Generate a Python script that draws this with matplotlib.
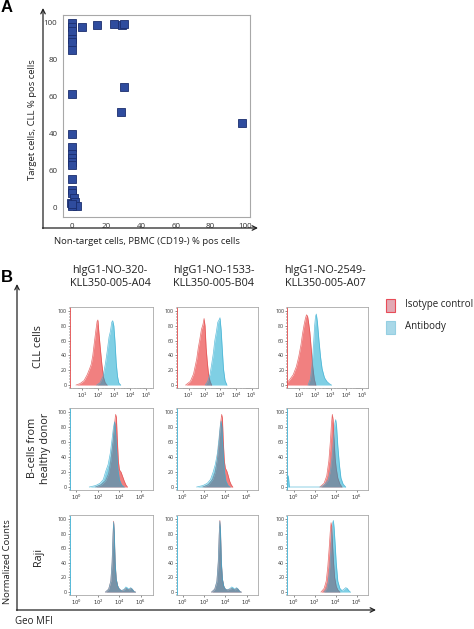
import numpy as np
import matplotlib.pyplot as plt
from matplotlib.patches import Rectangle
from matplotlib.ticker import FixedLocator, MultipleLocator, LogLocator, NullFormatter

plt.rcParams['font.family'] = ['Open Sans', 'DejaVu Sans']

W, H = 474, 629

# ---- panel A: % positive cells, CLL (target) vs PBMC CD19- (non-target)
pbmc_pos = [0, 0, 0, 0, 0, 0, 5.6, 14.6, 24, 28.8, 30.2, 0, 29.8, 28.3, 98.5,
            0, 0, 0, 0, 0, 0, 0, 0, 0, 1, -0.5, 1.7, 2.9, 0, 0]
cll_pos = [100, 98, 95.5, 91.5, 89.6, 85.5, 97.8, 99, 99.6, 99, 99.3, 61.3, 65, 51.5, 45.8,
           39.5, 32.7, 28.7, 26.4, 24.5, 23, 15, 9.5, 7.6, 4.9, 2, 2.5, 0.7, 0.5, 1.5]
a_ticks = [0, 20, 40, 60, 80, 100]
a_yticklabels = ['0', '60', '40', '60', '80', '100']  # as printed in the original

# ---- panel B: flow histograms (x in log10 units, y = normalized counts)
antibodies = ['hIgG1-NO-320-\nKLL350-005-A04', 'hIgG1-NO-1533-\nKLL350-005-B04',
              'hIgG1-NO-2549-\nKLL350-005-A07']
cell_types = ['CLL cells', 'B-cells from\nhealthy donor', 'Raji']

# CLL cells
r1c1_iso_x = [0.6, 0.85, 1.1, 1.3, 1.45, 1.55, 1.65, 1.75, 1.85, 1.92, 1.97, 2.03, 2.12, 2.22, 2.33, 2.43, 2.55]
r1c1_iso_y = [0, 2, 6, 14, 22, 28, 40, 58, 75, 86, 88, 72, 50, 28, 10, 3, 0]
r1c1_ab_x = [1.9, 2.1, 2.3, 2.45, 2.55, 2.67, 2.75, 2.84, 2.9, 2.97, 3.04, 3.12, 3.2, 3.28, 3.4]
r1c1_ab_y = [0, 3, 12, 30, 45, 65, 72, 85, 87, 80, 60, 30, 12, 3, 0]
r1c2_iso_x = [0.8, 1.1, 1.3, 1.4, 1.5, 1.6, 1.7, 1.8, 1.9, 1.97, 2.03, 2.1, 2.17, 2.25, 2.35, 2.45]
r1c2_iso_y = [0, 5, 15, 25, 35, 50, 62, 75, 82, 90, 80, 50, 32, 15, 5, 0]
r1c2_ab_x = [2.05, 2.2, 2.35, 2.45, 2.55, 2.65, 2.75, 2.84, 2.92, 2.98, 3.05, 3.12, 3.2, 3.3, 3.42]
r1c2_ab_y = [0, 5, 15, 28, 42, 60, 72, 85, 88, 91, 75, 50, 22, 6, 0]
r1c3_iso_x = [0.2, 0.4, 0.6, 0.8, 0.95, 1.1, 1.2, 1.3, 1.38, 1.45, 1.52, 1.58, 1.66, 1.75, 1.85, 1.95, 2.05]
r1c3_iso_y = [3, 8, 14, 25, 38, 55, 70, 82, 90, 95, 93, 85, 72, 50, 25, 8, 0]
r1c3_ab_x = [1.55, 1.7, 1.8, 1.9, 1.97, 2.03, 2.08, 2.15, 2.25, 2.35, 2.45, 2.6, 2.75, 2.9, 3.05]
r1c3_ab_y = [0, 8, 25, 55, 80, 93, 96, 85, 60, 38, 22, 10, 5, 2, 0]

# B-cells from healthy donor
r2c1_iso_x = [1.8, 2.3, 2.7, 3.0, 3.2, 3.4, 3.55, 3.65, 3.72, 3.8, 3.9, 4.0, 4.15, 4.3, 4.45, 4.6, 4.75]
r2c1_iso_y = [0, 3, 8, 18, 35, 60, 85, 97, 93, 65, 35, 23, 20, 14, 8, 3, 0]
r2c1_ab_x = [1.2, 1.8, 2.2, 2.5, 2.75, 2.95, 3.15, 3.3, 3.45, 3.55, 3.62, 3.72, 3.85, 4.0, 4.2, 4.45]
r2c1_ab_y = [0, 2, 5, 10, 22, 30, 45, 62, 80, 87, 80, 55, 25, 10, 3, 0]
r2c2_iso_x = [1.9, 2.4, 2.8, 3.05, 3.25, 3.42, 3.55, 3.65, 3.72, 3.8, 3.9, 4.0, 4.12, 4.25, 4.4, 4.55, 4.7]
r2c2_iso_y = [0, 3, 10, 20, 38, 62, 85, 97, 92, 62, 35, 25, 22, 16, 8, 3, 0]
r2c2_ab_x = [1.3, 1.9, 2.3, 2.6, 2.85, 3.05, 3.25, 3.4, 3.52, 3.6, 3.68, 3.78, 3.9, 4.05, 4.25, 4.45]
r2c2_ab_y = [0, 2, 5, 10, 20, 30, 45, 65, 82, 88, 80, 50, 22, 8, 2, 0]
r2c3_iso_x = [2.5, 2.9, 3.15, 3.35, 3.5, 3.6, 3.68, 3.75, 3.85, 3.95, 4.05, 4.2, 4.4, 4.6]
r2c3_iso_y = [0, 5, 15, 35, 62, 85, 97, 90, 62, 38, 25, 12, 4, 0]
r2c3_ab_x = [-0.6, -0.5, -0.4, 2.6, 3.0, 3.3, 3.5, 3.65, 3.8, 3.92, 4.0, 4.08, 4.2, 4.35, 4.5, 4.7, 4.95]
r2c3_ab_y = [12, 15, 0, 0, 4, 10, 22, 40, 65, 85, 90, 82, 55, 30, 12, 4, 0]

# Raji
r3c1_iso_x = [2.7, 3.0, 3.2, 3.32, 3.4, 3.46, 3.52, 3.6, 3.7, 3.85, 4.0, 4.2, 4.45, 4.6, 4.75, 4.9, 5.05, 5.2, 5.35, 5.5]
r3c1_iso_y = [0, 4, 15, 40, 75, 97, 80, 40, 18, 8, 4, 2, 3, 5, 4, 3, 5, 4, 1, 0]
r3c1_ab_x = [2.7, 3.0, 3.2, 3.32, 3.4, 3.46, 3.52, 3.6, 3.7, 3.85, 4.0, 4.2, 4.45, 4.6, 4.72, 4.85, 5.05, 5.2, 5.35, 5.5]
r3c1_ab_y = [0, 4, 15, 42, 78, 96, 82, 42, 18, 8, 4, 2, 4, 7, 6, 4, 6, 4, 1, 0]
r3c2_iso_x = [2.7, 3.0, 3.2, 3.33, 3.42, 3.48, 3.54, 3.62, 3.72, 3.85, 4.0, 4.2, 4.45, 4.6, 4.75, 4.9, 5.05, 5.2, 5.35, 5.5]
r3c2_iso_y = [0, 4, 14, 40, 78, 98, 82, 40, 18, 8, 4, 3, 4, 5, 4, 3, 5, 4, 1, 0]
r3c2_ab_x = [2.7, 3.0, 3.2, 3.33, 3.42, 3.48, 3.54, 3.62, 3.72, 3.85, 4.0, 4.2, 4.45, 4.6, 4.72, 4.85, 5.05, 5.2, 5.35, 5.5]
r3c2_ab_y = [0, 4, 15, 42, 80, 97, 84, 42, 18, 8, 4, 3, 5, 7, 6, 4, 6, 4, 1, 0]
r3c3_iso_x = [2.6, 2.9, 3.1, 3.25, 3.38, 3.48, 3.56, 3.62, 3.7, 3.8, 3.9, 4.05, 4.2, 4.4]
r3c3_iso_y = [0, 5, 15, 35, 60, 82, 95, 90, 65, 40, 20, 8, 3, 0]
r3c3_ab_x = [2.9, 3.15, 3.3, 3.45, 3.55, 3.65, 3.72, 3.78, 3.85, 3.95, 4.05, 4.2, 4.4, 4.6, 4.8, 4.95, 5.1, 5.25, 5.4]
r3c3_ab_y = [0, 5, 15, 35, 60, 85, 95, 98, 88, 65, 40, 15, 5, 2, 4, 6, 5, 2, 0]

hist_iso = [[(r1c1_iso_x, r1c1_iso_y), (r1c2_iso_x, r1c2_iso_y), (r1c3_iso_x, r1c3_iso_y)],
            [(r2c1_iso_x, r2c1_iso_y), (r2c2_iso_x, r2c2_iso_y), (r2c3_iso_x, r2c3_iso_y)],
            [(r3c1_iso_x, r3c1_iso_y), (r3c2_iso_x, r3c2_iso_y), (r3c3_iso_x, r3c3_iso_y)]]
hist_ab = [[(r1c1_ab_x, r1c1_ab_y), (r1c2_ab_x, r1c2_ab_y), (r1c3_ab_x, r1c3_ab_y)],
           [(r2c1_ab_x, r2c1_ab_y), (r2c2_ab_x, r2c2_ab_y), (r2c3_ab_x, r2c3_ab_y)],
           [(r3c1_ab_x, r3c1_ab_y), (r3c2_ab_x, r3c2_ab_y), (r3c3_ab_x, r3c3_ab_y)]]

row1_xticks = [1, 2, 3, 4, 5]
row23_xticks = [0, 2, 4, 6]

RED, RED_EDGE = '#ef6464', '#e04848'
BLUE, BLUE_EDGE = '#0aa3cc', '#3aaed2'
GRID_GREY = '#a8a8a8'


def box(l, t, r, b):
    # pixel box -> figure fraction
    return [l / W, 1 - b / H, (r - l) / W, (b - t) / H]


fig = plt.figure(figsize=(W / 100, H / 100), dpi=100)

# ---------------- panel A ----------------
axA = fig.add_axes(box(63, 15, 250, 217))
axA.plot(pbmc_pos, cll_pos, 's', ms=5.4, color='#2f4c9e', mec='#1b2e6e', mew=0.6)
axA.set_xlim(-5.2, 102.9)
axA.set_ylim(-5.4, 104.3)
axA.set_xticks(a_ticks)
axA.set_yticks(a_ticks)
axA.set_yticklabels(a_yticklabels)
axA.tick_params(labelsize=5.8, length=0, pad=4, colors='#333333')
for s in axA.spines.values():
    s.set_color(GRID_GREY)
    s.set_linewidth(0.8)

# ---------------- panel B ----------------
col_lr = [(70, 152.7), (176.5, 258.3), (287.3, 368.3)]
row_tb = [(307, 388), (408, 490), (515, 595)]

for r in range(3):
    for c in range(3):
        l, rr = col_lr[c]
        t, b = row_tb[r]
        ax = fig.add_axes(box(l, t, rr, b))
        ax.set_xscale('log')
        for (xs, ys), col, ec, a, z in [(hist_iso[r][c], RED, RED_EDGE, 0.82, 2),
                                         (hist_ab[r][c], BLUE, BLUE_EDGE, 0.52, 3)]:
            xv = np.power(10.0, np.array(xs))
            ax.fill_between(xv, ys, 0, color=col, alpha=a, lw=0, zorder=z)
            ax.plot(xv, ys, color=ec, lw=0.5, alpha=0.8, zorder=z)
        if r == 0:
            ax.set_xlim(10 ** 0.22, 10 ** 5.41)
            ticks = row1_xticks
        else:
            ax.set_xlim(10 ** -0.6, 10 ** 7.1)
            ticks = row23_xticks
        ax.xaxis.set_major_locator(FixedLocator([10.0 ** k for k in ticks]))
        ax.set_xticklabels([r'$10^{%d}$' % k for k in ticks])
        ax.xaxis.set_minor_locator(LogLocator(base=10, subs=np.arange(2, 10)))
        ax.xaxis.set_minor_formatter(NullFormatter())
        ax.set_ylim(-4, 105.5)
        ax.set_yticks([0, 20, 40, 60, 80, 100])
        ax.yaxis.set_minor_locator(MultipleLocator(4))
        ax.tick_params(labelsize=3.8, length=1.6, width=0.4, pad=0.6, colors='#333333')
        ax.tick_params(which='minor', length=0.9, width=0.3)
        for s in ax.spines.values():
            s.set_color(GRID_GREY)
            s.set_linewidth(0.6)
        ax.spines['left'].set_color(RED_EDGE if r == 0 else BLUE_EDGE)
        ax.spines['left'].set_linestyle((0, (1, 1)))

# ---------------- overlay: labels, arrows, legend ----------------
ov = fig.add_axes([0, 0, 1, 1])
ov.set_xlim(0, W)
ov.set_ylim(H, 0)
ov.axis('off')
ov.patch.set_visible(False)

arrow = dict(arrowstyle='->', lw=0.9, color='#222222', shrinkA=0, shrinkB=0, mutation_scale=8)
ov.annotate('', xy=(43, 8), xytext=(43, 228.5), arrowprops=arrow)
ov.annotate('', xy=(258, 228), xytext=(42.5, 228), arrowprops=arrow)
ov.annotate('', xy=(17, 284), xytext=(17, 610.5), arrowprops=arrow)
ov.annotate('', xy=(376, 610), xytext=(16.5, 610), arrowprops=arrow)

ov.text(1, 8, 'A', fontsize=12, fontweight='bold', family='Liberation Sans', va='center')
ov.text(1, 278, 'B', fontsize=12, fontweight='bold', family='Liberation Sans', va='center')

ov.text(33, 120, 'Target cells, CLL % pos cells', rotation=90, fontsize=6.8,
        ha='center', va='center', color='#222222')
ov.text(147, 241, 'Non-target cells, PBMC (CD19-) % pos cells', fontsize=6.8,
        ha='center', va='center', color='#222222')

header_x = [110, 214, 325]
for name, x in zip(antibodies, header_x):
    ov.text(x, 277, name, fontsize=7.8, ha='center', va='center', color='#222222',
            linespacing=1.25)

row_y = [347, 448, 557]
for name, y in zip(cell_types, row_y):
    ov.text(39, y, name, rotation=90, fontsize=7.8, ha='center', va='center',
            color='#222222', linespacing=1.15)

ov.text(8, 604, 'Normalized Counts', rotation=90, fontsize=6.8, ha='left', va='center',
        rotation_mode='anchor', color='#222222')
ov.text(15, 622, 'Geo MFI', fontsize=7, ha='left', va='center', color='#222222')

ov.add_patch(Rectangle((386, 299), 9, 13, facecolor='#e2a9b4', edgecolor='#e84c58', lw=0.8))
ov.add_patch(Rectangle((386, 320.5), 9, 13, facecolor='#a9d8e8', edgecolor='#95cfe2', lw=0.8))
ov.text(405, 305, 'Isotype control', fontsize=7.0, ha='left', va='center', color='#222222')
ov.text(405, 326, 'Antibody', fontsize=7.0, ha='left', va='center', color='#222222')

fig.savefig('out.png', dpi=100)
